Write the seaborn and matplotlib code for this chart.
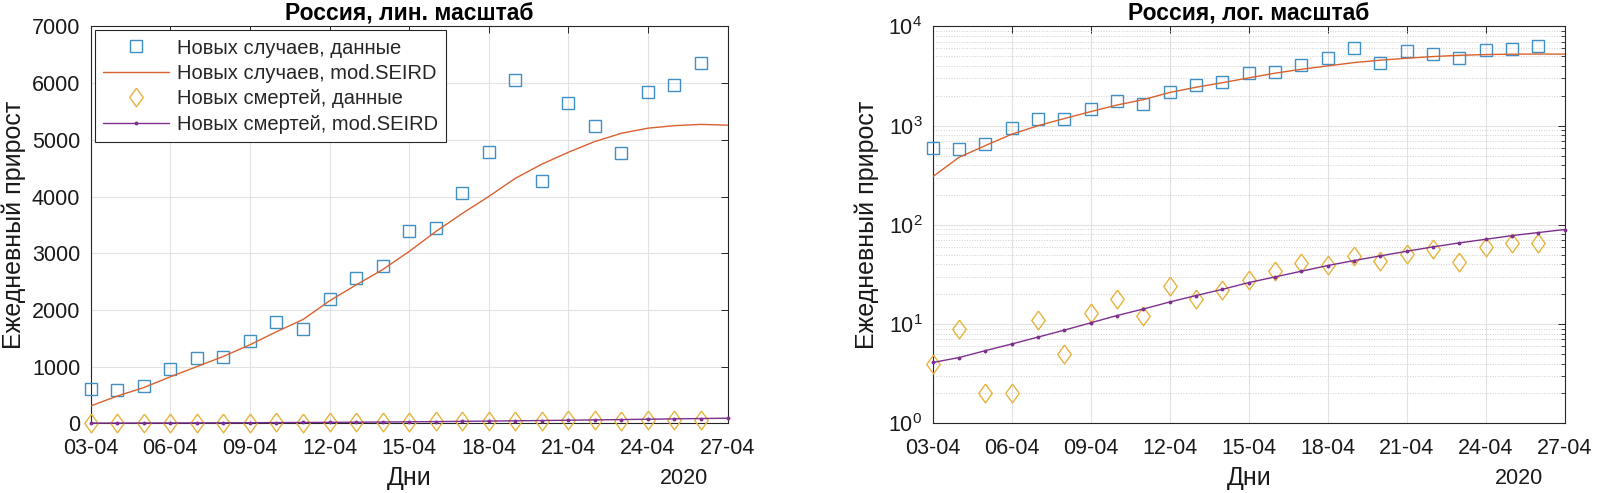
"""
plot.py
Russia, daily new COVID-19 cases and deaths vs. mod.SEIRD fit,
linear and log scale side by side (MATLAB-style look).
"""

import pandas as pd
import matplotlib
matplotlib.use('Agg')
import matplotlib.pyplot as plt
import matplotlib.dates as mdates
from matplotlib.ticker import LogLocator, NullFormatter
import seaborn as sns


# ── data ───────────────────────────────────────────────────────────────────────

DATA_DAYS = [
    '2020-04-03', '2020-04-04', '2020-04-05', '2020-04-06', '2020-04-07',
    '2020-04-08', '2020-04-09', '2020-04-10', '2020-04-11', '2020-04-12',
    '2020-04-13', '2020-04-14', '2020-04-15', '2020-04-16', '2020-04-17',
    '2020-04-18', '2020-04-19', '2020-04-20', '2020-04-21', '2020-04-22',
    '2020-04-23', '2020-04-24', '2020-04-25', '2020-04-26',
]
MODEL_DAYS = DATA_DAYS + ['2020-04-27']

CASES_DATA = [601, 582, 658, 954, 1154, 1175, 1459, 1786, 1667, 2186,
              2558, 2774, 3388, 3448, 4070, 4785, 6060, 4268, 5642, 5236,
              4774, 5849, 5966, 6361]
CASES_MODEL = [306, 480, 630, 820, 1000, 1180, 1385, 1615, 1830, 2160,
               2440, 2710, 3030, 3380, 3700, 4000, 4320, 4570, 4780, 4970,
               5115, 5205, 5250, 5272, 5258]

DEATHS_DATA = [4, 9, 2, 2, 11, 5, 13, 18, 12, 24, 18, 22, 28, 34, 41, 39,
               48, 43, 51, 57, 42, 60, 66, 66]
DEATHS_MODEL = [4.1, 4.6, 5.4, 6.3, 7.4, 8.7, 10.3, 12.2, 14.2, 16.7,
                19.4, 22.4, 26.2, 29.9, 34.1, 38.9, 43.7, 48.7, 54.2, 60.0,
                65.8, 71.6, 78.0, 83.7, 89.7]

LABELS = [
    'Новых случаев, данные',
    'Новых случаев, mod.SEIRD',
    'Новых смертей, данные',
    'Новых смертей, mod.SEIRD',
]

TICK_DAYS = [3, 6, 9, 12, 15, 18, 21, 24, 27]

# ── style ──────────────────────────────────────────────────────────────────────

C_BLUE   = '#3F8FC5'
C_ORANGE = '#D9612E'
C_YELLOW = '#E6B33C'
C_PURPLE = '#7E2F8E'
C_AXES   = '#262626'
C_TEXT   = '#1a1a1a'

# MATLAB-like diamond: a bit narrower than tall
DIAMOND = [(0, 1), (0.72, 0), (0, -1), (-0.72, 0), (0, 1)]

sns.set_style('white')
plt.rcParams['font.family'] = ['Liberation Sans', 'DejaVu Sans']
plt.rcParams['mathtext.fontset'] = 'custom'
plt.rcParams['mathtext.rm'] = 'Liberation Sans'

data_df = pd.DataFrame({
    'day': pd.to_datetime(DATA_DAYS),
    'cases': CASES_DATA,
    'deaths': DEATHS_DATA,
})
model_df = pd.DataFrame({
    'day': pd.to_datetime(MODEL_DAYS),
    'cases': CASES_MODEL,
    'deaths': DEATHS_MODEL,
})


def draw_series(ax):
    sns.lineplot(data=data_df, x='day', y='cases', ax=ax, linestyle='none',
                 marker='s', markersize=8, markerfacecolor='none',
                 markeredgecolor=C_BLUE, markeredgewidth=1.0, color=C_BLUE,
                 label=LABELS[0], errorbar=None, clip_on=False, zorder=3)
    sns.lineplot(data=model_df, x='day', y='cases', ax=ax, color=C_ORANGE,
                 linewidth=1.0, label=LABELS[1], errorbar=None, zorder=3)
    sns.lineplot(data=data_df, x='day', y='deaths', ax=ax, linestyle='none',
                 marker=DIAMOND, markersize=13.5, markerfacecolor='none',
                 markeredgecolor=C_YELLOW, markeredgewidth=1.0, color=C_YELLOW,
                 label=LABELS[2], errorbar=None, clip_on=False, zorder=3)
    sns.lineplot(data=model_df, x='day', y='deaths', ax=ax, color=C_PURPLE,
                 linewidth=1.0, marker='o', markersize=2.8,
                 markeredgewidth=0, label=LABELS[3], errorbar=None,
                 clip_on=False, zorder=4)


def style_axes(ax, title, ylabelpad, year_x):
    ax.set_xlim(pd.Timestamp('2020-04-03'), pd.Timestamp('2020-04-27'))
    ax.xaxis.set_major_locator(mdates.DayLocator(bymonthday=TICK_DAYS))
    ax.xaxis.set_major_formatter(mdates.DateFormatter('%d-%m'))
    ax.tick_params(which='both', direction='in', top=True, right=True,
                   labelsize=15.5, colors=C_AXES, labelcolor=C_TEXT)
    ax.tick_params(which='major', length=5, width=0.7)
    ax.tick_params(which='minor', length=3, width=0.6)
    ax.tick_params(axis='x', pad=10.5)
    ax.tick_params(axis='y', pad=7.5)
    ax.grid(True, which='major', color='#e2e2e2', linewidth=0.8)
    ax.set_axisbelow(True)
    for s in ax.spines.values():
        s.set_color(C_AXES)
        s.set_linewidth(0.8)
    ax.set_xlabel('Дни', fontsize=18, labelpad=5, color=C_TEXT)
    ax.set_ylabel('Ежедневный прирост', fontsize=18, labelpad=ylabelpad,
                  color=C_TEXT)
    ax.set_title(title, fontsize=16.5, fontweight='bold', pad=4, color='black')
    ax.text(year_x, -0.138, '2020', transform=ax.transAxes, ha='right',
            va='center', fontsize=15.5, color=C_TEXT)


fig = plt.figure(figsize=(16, 4.93), dpi=100)

# ── linear scale ───────────────────────────────────────────────────────────────

ax1 = fig.add_axes([0.0567, 0.1414, 0.398, 0.805])
draw_series(ax1)
style_axes(ax1, 'Россия, лин. масштаб', ylabelpad=4.5, year_x=0.969)
ax1.set_ylim(0, 7000)
ax1.set_yticks(range(0, 7001, 1000))
leg = ax1.legend(loc='upper left', fontsize=14.5, frameon=True,
                 fancybox=False, edgecolor=C_AXES, framealpha=1,
                 borderaxespad=0.2, borderpad=0.4, handlelength=3.3,
                 handletextpad=0.4, labelspacing=0.32)
leg.get_frame().set_linewidth(0.8)

# ── log scale ──────────────────────────────────────────────────────────────────

ax2 = fig.add_axes([0.583, 0.1414, 0.395, 0.805])
draw_series(ax2)
ax2.set_yscale('log')
style_axes(ax2, 'Россия, лог. масштаб', ylabelpad=7, year_x=0.965)
ax2.set_ylim(1, 1e4)
ax2.yaxis.set_major_locator(LogLocator(base=10, numticks=10))
ax2.yaxis.set_minor_locator(LogLocator(base=10, subs=range(2, 10), numticks=50))
ax2.yaxis.set_minor_formatter(NullFormatter())
ax2.grid(True, which='minor', axis='y', color='#d0d0d0', linewidth=0.7,
         linestyle=':')
ax2.get_legend().remove()

fig.savefig('out.png', dpi=100)
